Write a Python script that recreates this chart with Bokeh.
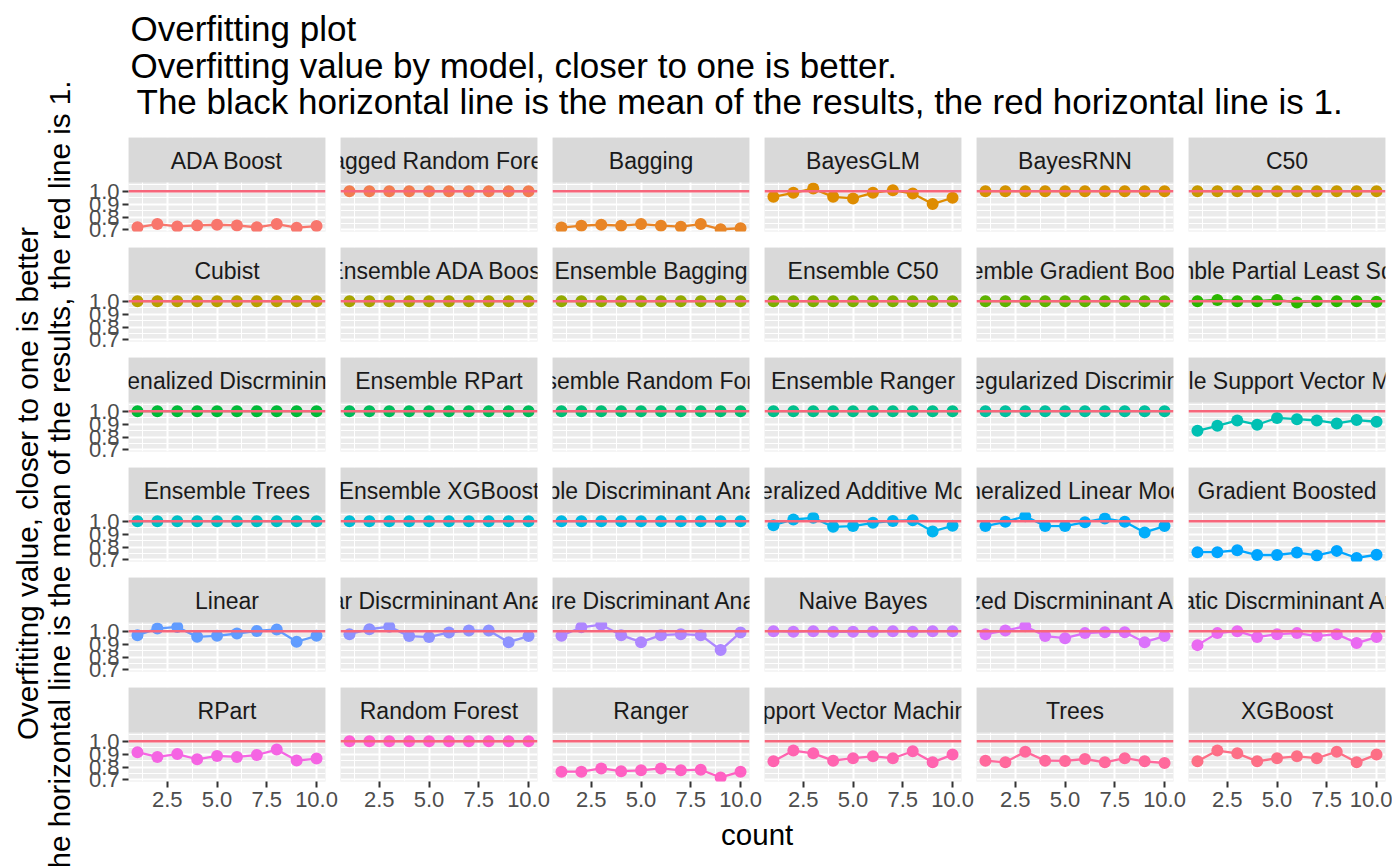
import math
from bokeh.plotting import figure
from bokeh.layouts import row, column
from bokeh.models import (Range1d, FixedTicker, LinearAxis, Grid, Span,
                          PrintfTickFormatter)
from bokeh.embed import file_html
from bokeh.resources import INLINE
from bokeh.core.properties import value

# ---------------- data ----------------
MODELS = [
    "ADA Boost", "Bagged Random Forest", "Bagging", "BayesGLM", "BayesRNN", "C50",
    "Cubist", "Ensemble ADA Boost", "Ensemble Bagging", "Ensemble C50",
    "Ensemble Gradient Boosted", "Ensemble Partial Least Squares",
    "Ensemble Penalized Discrmininant Analysis", "Ensemble RPart", "Ensemble Random Forest",
    "Ensemble Ranger", "Ensemble Regularized Discriminant Analysis",
    "Ensemble Support Vector Machines",
    "Ensemble Trees", "Ensemble XGBoost", "Flexible Discriminant Analysis",
    "Generalized Additive Models", "Generalized Linear Models", "Gradient Boosted",
    "Linear", "Linear Discrmininant Analysis", "Mixture Discriminant Analysis",
    "Naive Bayes", "Penalized Discrmininant Analysis", "Quadratic Discrmininant Analysis",
    "RPart", "Random Forest", "Ranger", "Support Vector Machines", "Trees", "XGBoost",
]
COUNT = [1, 2, 3, 4, 5, 6, 7, 8, 9, 10]
REF_LINE = 1.0

ada_boost = [0.720, 0.745, 0.727, 0.735, 0.740, 0.735, 0.720, 0.745, 0.717, 0.730]
bagged_random_forest = [1.0, 1.0, 1.0, 1.0, 1.0, 1.0, 1.0, 1.0, 1.0, 1.0]
bagging = [0.718, 0.733, 0.740, 0.733, 0.745, 0.733, 0.725, 0.745, 0.705, 0.713]
bayes_glm = [0.956, 0.987, 1.020, 0.956, 0.944, 0.987, 1.008, 0.982, 0.900, 0.949]
bayes_rnn = [1.0, 1.0, 1.0, 1.0, 1.0, 1.0, 1.0, 1.0, 1.0, 1.0]
c50 = [1.0, 1.0, 1.0, 1.0, 1.0, 1.0, 1.0, 1.0, 1.0, 1.0]
cubist = [1.0, 1.0, 1.0, 1.0, 1.0, 1.0, 1.0, 1.0, 1.0, 1.0]
ens_ada_boost = [1.0, 1.0, 1.0, 1.0, 1.0, 1.0, 1.0, 1.0, 1.0, 1.0]
ens_bagging = [1.0, 1.0, 1.0, 1.0, 1.0, 1.0, 1.0, 1.0, 1.0, 1.0]
ens_c50 = [1.0, 1.0, 1.0, 1.0, 1.0, 1.0, 1.0, 1.0, 1.0, 1.0]
ens_gradient_boosted = [1.0, 1.0, 1.0, 1.0, 1.0, 1.0, 1.0, 1.0, 1.0, 1.0]
ens_pls = [1.000, 1.010, 1.000, 1.000, 1.010, 0.990, 1.000, 1.000, 1.000, 0.995]
ens_penalized_da = [1.0, 1.0, 1.0, 1.0, 1.0, 1.0, 1.0, 1.0, 1.0, 1.0]
ens_rpart = [1.0, 1.0, 1.0, 1.0, 1.0, 1.0, 1.0, 1.0, 1.0, 1.0]
ens_random_forest = [1.0, 1.0, 1.0, 1.0, 1.0, 1.0, 1.0, 1.0, 1.0, 1.0]
ens_ranger = [1.0, 1.0, 1.0, 1.0, 1.0, 1.0, 1.0, 1.0, 1.0, 1.0]
ens_regularized_da = [1.0, 1.0, 1.0, 1.0, 1.0, 1.0, 1.0, 1.0, 1.0, 1.0]
ens_svm = [0.848, 0.887, 0.928, 0.895, 0.948, 0.938, 0.928, 0.905, 0.931, 0.918]
ens_trees = [1.0, 1.0, 1.0, 1.0, 1.0, 1.0, 1.0, 1.0, 1.0, 1.0]
ens_xgboost = [1.0, 1.0, 1.0, 1.0, 1.0, 1.0, 1.0, 1.0, 1.0, 1.0]
flexible_da = [1.0, 1.0, 1.0, 1.0, 1.0, 1.0, 1.0, 1.0, 1.0, 1.0]
gam = [0.969, 1.013, 1.026, 0.956, 0.962, 0.987, 1.002, 1.008, 0.921, 0.964]
glm = [0.962, 0.995, 1.038, 0.962, 0.962, 0.992, 1.021, 0.995, 0.913, 0.962]
gradient_boosted = [0.760, 0.760, 0.775, 0.738, 0.738, 0.757, 0.735, 0.770, 0.715, 0.740]
linear = [0.969, 1.020, 1.033, 0.956, 0.964, 0.982, 1.002, 1.013, 0.918, 0.964]
lda = [0.977, 1.015, 1.035, 0.962, 0.954, 0.990, 1.005, 1.005, 0.915, 0.962]
mda = [0.965, 1.030, 1.050, 0.969, 0.915, 0.969, 0.977, 0.969, 0.854, 0.990]
naive_bayes = [1.000, 0.995, 1.000, 0.995, 0.995, 0.995, 1.000, 0.995, 1.000, 1.000]
pda = [0.977, 1.005, 1.038, 0.962, 0.946, 0.985, 0.992, 0.992, 0.915, 0.962]
qda = [0.892, 0.985, 1.000, 0.954, 0.977, 0.985, 0.962, 0.977, 0.908, 0.954]
rpart = [0.915, 0.878, 0.900, 0.860, 0.886, 0.878, 0.893, 0.935, 0.850, 0.865]
random_forest = [1.0, 1.0, 1.0, 1.0, 1.0, 1.0, 1.0, 1.0, 1.0, 1.0]
ranger = [0.764, 0.764, 0.789, 0.768, 0.774, 0.789, 0.774, 0.779, 0.719, 0.764]
svm = [0.844, 0.927, 0.906, 0.849, 0.868, 0.883, 0.868, 0.922, 0.836, 0.896]
trees = [0.849, 0.836, 0.919, 0.849, 0.847, 0.862, 0.836, 0.868, 0.844, 0.831]
xgboost = [0.844, 0.927, 0.906, 0.844, 0.868, 0.883, 0.868, 0.919, 0.836, 0.896]

SERIES = [ada_boost, bagged_random_forest, bagging, bayes_glm, bayes_rnn, c50,
          cubist, ens_ada_boost, ens_bagging, ens_c50, ens_gradient_boosted, ens_pls,
          ens_penalized_da, ens_rpart, ens_random_forest, ens_ranger, ens_regularized_da, ens_svm,
          ens_trees, ens_xgboost, flexible_da, gam, glm, gradient_boosted,
          linear, lda, mda, naive_bayes, pda, qda,
          rpart, random_forest, ranger, svm, trees, xgboost]

X_BREAKS = [2.5, 5.0, 7.5, 10.0]
X_MINOR = [1.25, 3.75, 6.25, 8.75]
Y_BREAKS = [0.7, 0.8, 0.9, 1.0]
Y_MINOR = [0.75, 0.85, 0.95, 1.05]

TITLE_LINES = ["Overfitting plot",
               "Overfitting value by model, closer to one is better.",
               " The black horizontal line is the mean of the results, the red horizontal line is 1."]
YLAB_LINES = ["Overfititng value, closer to one is better",
              "The horizontal line is the mean of the results, the red line is 1."]
XLAB = "count"

# ---------------- style ----------------
FONT = "Liberation Sans"
RED = "#F7667B"
PANEL_W, STRIP_H, PANEL_H = 197, 45, 49
GAP_X, GAP_Y = 15, 16
LEFT_AXIS, BOTTOM_AXIS, LAST_RIGHT = 48, 38, 7
NCOL, NROW = 6, 6
YLAB_W, TITLE_H, XLAB_H = 80, 137, 47


def hcl_hex(h, c=100.0, l=65.0):
    WHITE_Y, WHITE_u, WHITE_v = 1.0, 0.1978398, 0.4683363
    hr = math.radians(h)
    U, V = c * math.cos(hr), c * math.sin(hr)
    Y = WHITE_Y * (((l + 16) / 116) ** 3 if l > 7.999592 else l / 903.3)
    u = U / (13 * l) + WHITE_u
    v = V / (13 * l) + WHITE_v
    X = 9.0 * Y * u / (4 * v)
    Z = -X / 3 - 5 * Y + 3 * Y / v

    def g(t):
        t = 1.055 * t ** (1 / 2.4) - 0.055 if t > 0.00304 else 12.92 * t
        return int(round(255 * min(1.0, max(0.0, t))))
    r = g(3.240479 * X - 1.537150 * Y - 0.498535 * Z)
    gg = g(-0.969256 * X + 1.875992 * Y + 0.041556 * Z)
    b = g(0.055648 * X - 0.204043 * Y + 1.057311 * Z)
    return "#%02X%02X%02X" % (r, gg, b)


n = len(MODELS)
COLORS = [hcl_hex(15 + 360.0 * i / n) for i in range(n)]

x_lo = min(COUNT) - 0.05 * (max(COUNT) - min(COUNT))
x_hi = max(COUNT) + 0.05 * (max(COUNT) - min(COUNT))
all_vals = [v for s in SERIES for v in s] + [REF_LINE]
dmin, dmax = min(all_vals), max(all_vals)
y_lo = dmin - 0.05 * (dmax - dmin)
y_hi = dmax + 0.05 * (dmax - dmin)
y_top = y_hi + STRIP_H * (y_hi - y_lo) / PANEL_H


def blank(width, height, xr, yr):
    f = figure(width=width, height=height, x_range=Range1d(*xr), y_range=Range1d(*yr),
               x_axis_location=None, y_axis_location=None, toolbar_location=None,
               output_backend="svg", min_border=0, outline_line_color=None,
               background_fill_color="white", border_fill_color="white")
    f.center = [c for c in f.center if not isinstance(c, Grid)]
    return f


def axis(ticker_vals, **kw):
    return LinearAxis(ticker=FixedTicker(ticks=ticker_vals),
                      formatter=PrintfTickFormatter(format="%.1f"),
                      axis_line_color=None, major_tick_line_color="#333333",
                      major_tick_line_width=2, major_tick_in=0, major_tick_out=6,
                      minor_tick_line_color=None,
                      major_label_text_font=FONT, major_label_text_font_size="22px",
                      major_label_text_color="#4D4D4D", **kw)


def panel(i):
    rr, cc = divmod(i, NCOL)
    left = LEFT_AXIS if cc == 0 else 0
    right = GAP_X if cc < NCOL - 1 else LAST_RIGHT
    bottom = GAP_Y if rr < NROW - 1 else BOTTOM_AXIS
    p = figure(frame_width=PANEL_W, frame_height=STRIP_H + PANEL_H,
               x_range=Range1d(x_lo, x_hi), y_range=Range1d(y_lo, y_top),
               x_axis_location=None, y_axis_location=None, toolbar_location=None,
               output_backend="svg", min_border_left=left, min_border_right=right,
               min_border_top=0, min_border_bottom=bottom,
               background_fill_color="#EBEBEB", border_fill_color="white",
               outline_line_color=None)
    p.center = [c for c in p.center if not isinstance(c, Grid)]
    p.add_layout(Grid(dimension=0, ticker=FixedTicker(ticks=X_BREAKS, minor_ticks=X_MINOR),
                      grid_line_color="white", grid_line_width=2,
                      minor_grid_line_color="white", minor_grid_line_width=1), "center")
    p.add_layout(Grid(dimension=1, ticker=FixedTicker(ticks=Y_BREAKS, minor_ticks=Y_MINOR),
                      grid_line_color="white", grid_line_width=2,
                      minor_grid_line_color="white", minor_grid_line_width=1), "center")
    if cc == 0:
        p.add_layout(axis(Y_BREAKS, major_label_standoff=3), "left")
    if rr == NROW - 1:
        p.add_layout(axis(X_BREAKS, major_label_standoff=4), "below")
    col = COLORS[i]
    p.line(COUNT, SERIES[i], line_color=col, line_width=2.3)
    p.scatter(COUNT, SERIES[i], size=12, fill_color=col, line_color=None)
    # strip
    p.quad(left=[x_lo], right=[x_hi], bottom=[y_hi], top=[y_top],
           fill_color="#D9D9D9", line_color=None)
    p.text(x=[(x_lo + x_hi) / 2], y=[(y_hi + y_top) / 2], text=[MODELS[i]],
           text_align="center", text_baseline="middle", text_font=value(FONT),
           text_font_size="23px", text_color="#1A1A1A", y_offset=1)
    p.add_layout(Span(location=REF_LINE, dimension="width", line_color=RED, line_width=2.4))
    return p


panels = [panel(i) for i in range(n)]
rows = [row(*panels[r * NCOL:(r + 1) * NCOL]) for r in range(NROW)]

right_w = (LEFT_AXIS + PANEL_W + GAP_X) + (NCOL - 2) * (PANEL_W + GAP_X) + PANEL_W + LAST_RIGHT
total_h = TITLE_H + (NROW - 1) * (STRIP_H + PANEL_H + GAP_Y) + (STRIP_H + PANEL_H + BOTTOM_AXIS) + XLAB_H

title_fig = blank(right_w, TITLE_H, (YLAB_W, YLAB_W + right_w), (TITLE_H, 0))
title_fig.text(x=[130, 130, 136], y=[28, 65, 101], text=TITLE_LINES, text_align="left",
               text_baseline="alphabetic", text_font=value(FONT), text_font_size="35px",
               text_color="black")

xlab_top = total_h - XLAB_H
xlab_fig = blank(right_w, XLAB_H, (YLAB_W, YLAB_W + right_w), (total_h, xlab_top))
xlab_fig.text(x=[756.7], y=[834], text=[XLAB], text_align="center", text_baseline="alphabetic",
              text_font=value(FONT), text_font_size="29.5px", text_color="black")

ylab_fig = blank(YLAB_W, total_h, (0, YLAB_W), (total_h, 0))
ylab_fig.text(x=[27, 59], y=[483, 483], text=YLAB_LINES, angle=math.pi / 2,
              text_align="center", text_baseline="alphabetic", text_font=value(FONT),
              text_font_size="29.6px", text_color="black")

layout = row(ylab_fig, column(title_fig, *rows, xlab_fig))

with open("out.html", "w") as fh:
    fh.write(file_html(layout, INLINE))
